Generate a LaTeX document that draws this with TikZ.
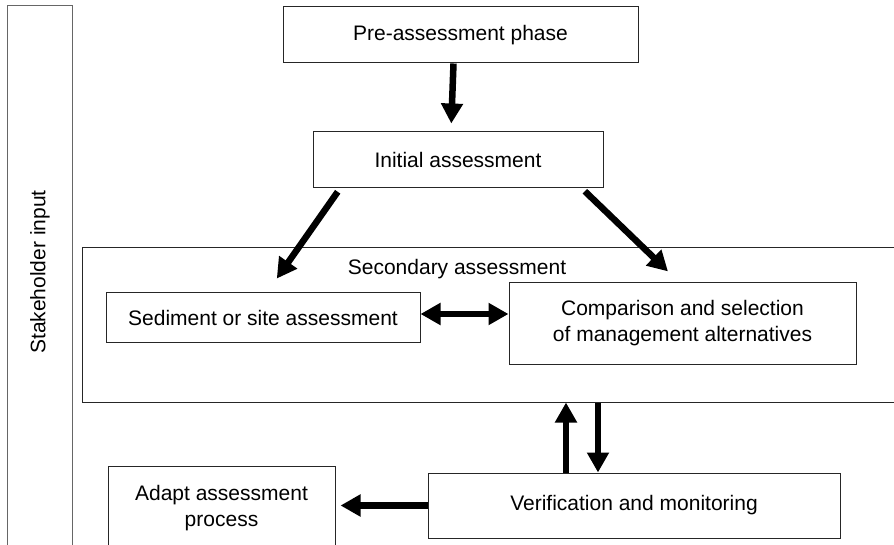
\documentclass[tikz,border=0pt]{standalone}
\usepackage{fontspec}
\setmainfont{Liberation Sans}
\usetikzlibrary{arrows.meta}
\begin{document}
\begin{tikzpicture}[x=1pt,y=-1pt,
  phasebox/.style={shape=rectangle,draw=black!85,line width=1pt,inner sep=0pt,align=center,font=\fontsize{21}{26}\selectfont},
  fatarrow/.style={line width=6.5pt,-{Triangle[width=21pt,length=20pt]}},
  fatboth/.style={line width=6.5pt,{Triangle[width=21pt,length=20pt]}-{Triangle[width=21pt,length=20pt]}}]
\useasboundingbox (0,0) rectangle (894,545);
\clip (0,0) rectangle (894,545);
\node[phasebox,draw=black!60,minimum width=64.5pt,minimum height=554pt] (stake) at (39.75,283) {};
\node[rotate=90,font=\fontsize{21}{26}\selectfont] (staketext) at (40,272) {Stakeholder input};
\node[phasebox,minimum width=355pt,minimum height=56pt] (pre) at (460.5,35) {Pre-assessment phase};
\node[phasebox,minimum width=290pt,minimum height=56pt] (init) at (458,160) {Initial assessment};
\node[phasebox,minimum width=838pt,minimum height=154pt] (sec) at (501,325) {};
\node[font=\fontsize{21}{26}\selectfont] (sectext) at (457,269) {Secondary assessment};
\node[phasebox,minimum width=314pt,minimum height=49pt] (sed) at (263,317.5) {Sediment or site assessment};
\node[phasebox,minimum width=347pt,minimum height=81pt] (comp) at (682.5,323.5) {Comparison and selection\\of management alternatives};
\node[phasebox,minimum width=412pt,minimum height=65pt] (ver) at (634,505.5) {Verification and monitoring};
\node[phasebox,minimum width=227pt,minimum height=84pt] (adapt) at (221.5,508) {Adapt assessment\\process};
\draw[fatarrow,shorten >=8pt] ([xshift=-7pt]pre.south) -- ([xshift=-7pt]init.north);
\draw[fatarrow,shorten >=17pt,shorten <=4pt] ([xshift=-118pt]init.south) -- ([xshift=4pt]sed.north);
\draw[fatarrow,shorten >=16pt,shorten <=4pt] ([xshift=124pt]init.south) -- ([xshift=-3pt]comp.north);
\draw[fatboth] ([yshift=3.5pt]sed.east) -- ([yshift=3.5pt]sed.east -| comp.west);
\draw[fatarrow] ([xshift=-68pt]ver.north) -- ([xshift=-68pt]ver.north |- sec.south);
\draw[fatarrow] ([xshift=-36pt]ver.north |- sec.south) -- ([xshift=-36pt]ver.north);
\draw[fatarrow,shorten >=5pt] (ver.west) -- (ver.west -| adapt.east);
\end{tikzpicture}
\end{document}
